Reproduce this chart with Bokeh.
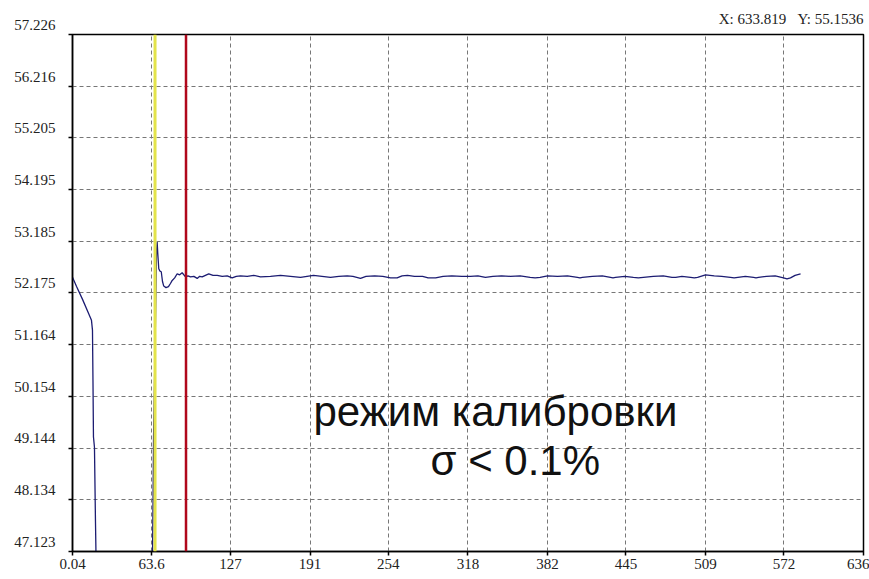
from bokeh.plotting import figure
from bokeh.models import Range1d, FixedTicker, Span, Label, Title
from bokeh.embed import file_html
from bokeh.resources import INLINE

# ---- data ----
x_ticks = [0.04, 63.6, 127, 191, 254, 318, 382, 445, 509, 572, 636]
y_ticks = [47.123, 48.134, 49.144, 50.154, 51.164, 52.175, 53.185, 54.195, 55.205, 56.216, 57.226]
y_tick_labels = ["47.123", "48.134", "49.144", "50.154", "51.164", "52.175",
                 "53.185", "54.195", "55.205", "56.216", "57.226"]

trace_x = [0.04, 3.3, 8.1, 12.9, 15.3, 16.1, 16.5, 16.9, 17.7, 18.5, 18.9, 19.2,
           64.3, 64.4, 64.8, 65.2, 66.5, 67.6, 68.1, 68.6, 69.4, 70.4,
           71.4, 72.4, 73.4, 75.2, 77.2, 78.8, 80.2, 82.2, 84.2, 86.2,
           88.2, 90.9, 92.9, 94.9, 97.6, 100.3, 102.3, 104.3, 106.9, 109.6,
           113.0, 116.4, 120.4, 124.4, 128.4, 131.7, 135.1, 140.5, 145.8, 151.2,
           159.2, 167.3, 175.3, 183.4, 193.8, 200.6, 207.5, 214.2, 220.9, 225.5,
           231.6, 236.0, 243.0, 249.5, 255.7, 258.4, 261.0, 265.0, 269.4, 275.0,
           281.5, 286.0, 289.0, 292.0, 298.0, 305.0, 313.0, 320.0, 326.0, 332.0,
           338.0, 345.0, 352.0, 360.0, 368.0, 372.0, 376.0, 382.0, 390.0, 398.0,
           406.0, 408.0, 410.0, 418.0, 426.0, 432.6, 434.6, 436.6, 444.0, 451.0,
           455.0, 459.0, 467.0, 475.0, 482.0, 485.0, 490.0, 497.0, 500.0, 502.6,
           509.0, 516.0, 522.0, 529.0, 532.0, 535.0, 541.0, 547.6, 549.6, 551.6,
           558.0, 565.0, 571.7, 574.5, 577.3, 581.0, 585.4]
trace_y = [52.48, 52.30, 52.05, 51.78, 51.64, 51.45, 50.47, 49.36, 49.16, 47.73, 47.12, 46.90,
           46.90, 47.12, 48.12, 49.36, 51.20, 53.00, 53.17, 52.95, 52.65, 52.60,
           52.59, 52.40, 52.31, 52.28, 52.30, 52.36, 52.42, 52.47, 52.55, 52.53,
           52.57, 52.49, 52.51, 52.49, 52.50, 52.46, 52.50, 52.49, 52.52, 52.55,
           52.52, 52.52, 52.50, 52.51, 52.47, 52.50, 52.51, 52.50, 52.52, 52.49,
           52.50, 52.52, 52.50, 52.48, 52.52, 52.50, 52.48, 52.50, 52.51, 52.50,
           52.46, 52.50, 52.51, 52.50, 52.47, 52.47, 52.47, 52.51, 52.52, 52.50,
           52.50, 52.47, 52.47, 52.47, 52.50, 52.51, 52.50, 52.50, 52.51, 52.48,
           52.50, 52.51, 52.50, 52.51, 52.48, 52.47, 52.48, 52.51, 52.50, 52.51,
           52.48, 52.47, 52.48, 52.50, 52.51, 52.48, 52.47, 52.48, 52.50, 52.48,
           52.47, 52.48, 52.50, 52.51, 52.48, 52.48, 52.50, 52.48, 52.47, 52.48,
           52.53, 52.51, 52.50, 52.48, 52.47, 52.48, 52.50, 52.48, 52.47, 52.48,
           52.50, 52.51, 52.47, 52.45, 52.47, 52.52, 52.55]

yellow_x = 66.4
red_x = 91.3

cursor_text = "X: 633.819\u00a0\u00a0\u00a0Y: 55.1536"
note_line1 = "режим калибровки"
note_line2 = "σ < 0.1%"
note1_x, note1_y = 193.8, 49.86
note2_x, note2_y = 287.9, 48.90

SERIF = "Liberation Serif"
SANS = "Liberation Sans"

p = figure(frame_width=791, frame_height=517,
           x_range=Range1d(x_ticks[0], x_ticks[-1]),
           y_range=Range1d(y_ticks[0], y_ticks[-1]),
           output_backend="svg", toolbar_location=None,
           min_border_left=72, min_border_right=6,
           min_border_top=34, min_border_bottom=28)

p.title = Title(text=cursor_text, align="right", text_font=SERIF,
                text_font_size="15px", text_font_style="normal",
                text_color="#222222", standoff=15)

p.background_fill_color = "white"
p.border_fill_color = "white"
p.outline_line_color = "black"
p.outline_line_width = 1.5
p.outline_line_alpha = 1.0

for ax, ticks in ((p.xaxis[0], x_ticks), (p.yaxis[0], y_ticks)):
    ax.ticker = FixedTicker(ticks=ticks)
    ax.axis_line_color = "black"
    ax.axis_line_width = 1.5
    ax.major_tick_line_color = "black"
    ax.major_tick_line_width = 1.5
    ax.major_tick_out = 4
    ax.major_tick_in = 0
    ax.minor_tick_line_color = None
    ax.major_label_text_font = SERIF
    ax.major_label_text_font_size = "15px"
    ax.major_label_text_color = "#222222"

p.xaxis.major_label_overrides = {t: str(t) for t in x_ticks}
p.xaxis.major_label_standoff = 3
# an empty second line lifts each label so it sits just above its tick
p.yaxis.major_label_overrides = {t: s + "\n\u00a0" for t, s in zip(y_ticks, y_tick_labels)}
p.yaxis.major_label_standoff = 13

for g in (p.xgrid[0], p.ygrid[0]):
    g.grid_line_color = "#777777"
    g.grid_line_dash = "4 3"
    g.grid_line_width = 1

p.line(trace_x, trace_y, line_color="#1c1c72", line_width=1.3)

p.add_layout(Span(location=yellow_x, dimension="height",
                  line_color="#e3e34a", line_width=3))
p.add_layout(Span(location=red_x, dimension="height",
                  line_color="#b0081c", line_width=2.5))

p.add_layout(Label(x=note1_x, y=note1_y, text=note_line1, text_font=SANS,
                   text_font_size="42px", text_color="#111111",
                   text_baseline="middle"))
p.add_layout(Label(x=note2_x, y=note2_y, text=note_line2, text_font=SANS,
                   text_font_size="42px", text_color="#111111",
                   text_baseline="middle"))

open("out.html", "w").write(file_html(p, INLINE))
